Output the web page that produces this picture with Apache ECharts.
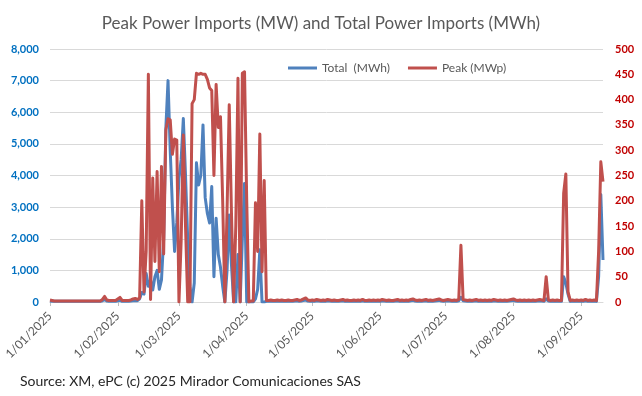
<!DOCTYPE html>
<html>
<head>
<meta charset="utf-8">
<script src="https://cdn.jsdelivr.net/npm/echarts@6/dist/echarts.min.js"></script>
<style>
  html, body { margin: 0; padding: 0; background: #fff; }
  #chart { width: 642px; height: 396px; }
</style>
</head>
<body>
<div id="chart"></div>
<script>
// daily series, 1 Jan 2025 .. 11 Sep 2025
const startDay = Date.UTC(2025, 0, 1)
const dayCount = 254

// Total (MWh), left axis
const totalMWh = [
  30,20,20,20,20,20,20,20,20,20, 20,20,20,20,20,20,20,20,20,20,
  20,20,20,20,40,80,30,20,20,20, 20,40,60,20,20,20,20,30,40,50,
  40,
  100,300,250,900,500,700,380,800,1000,400,
  700,2000,5500,7000,4800,3000,1600,2500,3900,4500,
  5800,4000,2000,500,0,600,4400,3700,4000,5600,
  3300,2800,2500,3650,800,2650,1500,1100,500,0,
  1000,2750,1200,0,0,1500,0,2000,3750,0,
  0,0,0,100,400,1650,0,0,20,
  20,30,20,20,30,20,30,20,20,30,
  20,20,30,40,20,30,50,60,30,20,
  30,20,40,30,20,30,20,40,30,20,
  30,20,20,30,40,20,30,20,20,30,
  20,30,20,40,20,20,30,20,30,20,
  30,20,40,30,20,30,20,20,30,40,
  20,30,20,30,20,40,50,30,20,30,
  20,30,40,20,30,20,30,40,50,30,
  20,30,40,30,20,30,20,40,150,40,
  30,20,30,20,30,40,20,30,20,30,
  20,30,20,40,30,20,30,20,30,20,
  30,40,50,30,20,30,20,30,20,30,
  20,30,20,30,40,30,20,100,30,20,
  30,20,30,20,20,800,600,250,20,30,
  20,30,20,30,20,40,20,30,20,30,
  20,800,3400,1330
]

// Peak (MWp), right axis
const peakMWp = [
  4,3,2,2,2,2,2,2,2,2, 2,2,2,2,2,2,2,2,2,2,
  2,2,2,2,5,11,4,3,3,3, 3,6,9,3,3,3,3,4,6,7,
  5,
  8,200,20,100,450,5,245,80,258,60,
  268,95,340,362,360,292,322,320,0,120,
  330,150,0,0,392,400,452,450,452,450,
  450,440,423,418,250,430,345,366,200,0,
  180,390,180,0,150,442,0,452,455,200,
  0,2,2,196,100,332,60,240,3,
  3,4,3,3,4,3,4,3,3,4,
  3,3,4,5,3,4,6,8,4,3,
  4,3,5,4,3,4,3,5,4,3,
  4,3,3,4,5,3,4,3,3,4,
  3,4,3,5,3,3,4,3,4,3,
  4,3,5,4,3,4,3,3,4,5,
  3,4,3,4,3,5,6,4,3,4,
  3,4,5,3,4,3,4,5,6,4,
  3,4,5,4,3,4,3,5,112,5,
  4,3,4,3,4,5,3,4,3,4,
  3,4,3,5,4,3,4,3,4,3,
  4,5,6,4,3,4,3,4,3,4,
  3,4,3,4,5,4,3,50,4,3,
  4,3,4,3,3,215,253,20,3,4,
  3,4,3,4,3,5,3,4,3,4,
  3,100,277,238
]

const seriesNames = ['Total  (MWh)', 'Peak (MWp)']

// d/mm/yyyy labels
const dates = []
for (let i = 0; i < dayCount; i++) {
  const d = new Date(startDay + i * 86400000)
  const mm = String(d.getUTCMonth() + 1).padStart(2, '0')
  dates.push(d.getUTCDate() + '/' + mm + '/' + d.getUTCFullYear())
}

const isMonthStart = (idx, val) => String(dates[idx]).startsWith('1/')

const myChart = echarts.init(document.getElementById('chart'))
const options = {
  animation: false,
  textStyle: { fontFamily: 'Lato' },
  title: {
    text: 'Peak Power Imports (MW) and Total Power Imports (MWh)',
    left: 'center',
    top: 10,
    textStyle: { color: '#595959', fontSize: 17, fontWeight: 'normal', fontFamily: 'Lato' }
  },
  legend: {
    left: 283,
    top: 57,
    itemWidth: 29,
    itemHeight: 3,
    itemGap: 18,
    icon: 'rect',
    textStyle: { color: '#595959', fontSize: 12, fontFamily: 'Lato' },
    data: seriesNames
  },
  grid: { left: 50, right: 39, top: 49, bottom: 94 },
  xAxis: {
    type: 'category',
    boundaryGap: false,
    data: dates,
    axisLine: { lineStyle: { color: '#D9D9D9' } },
    axisTick: { show: true, interval: isMonthStart, length: 4, lineStyle: { color: '#BFBFBF' } },
    axisLabel: {
      interval: isMonthStart,
      rotate: 45,
      margin: 12,
      fontSize: 12,
      color: '#595959'
    },
    splitLine: { show: false }
  },
  yAxis: [
    {
      type: 'value',
      min: 0,
      max: 8000,
      interval: 1000,
      axisLine: { show: false },
      axisTick: { show: false },
      axisLabel: {
        margin: 11,
        fontSize: 11,
        fontWeight: 'bold',
        color: '#0070C0',
        formatter: v => v.toLocaleString('en-US')
      },
      splitLine: { show: true, lineStyle: { color: '#D9D9D9', width: 1 } }
    },
    {
      type: 'value',
      min: 0,
      max: 500,
      interval: 50,
      axisLine: { show: false },
      axisTick: { show: false },
      axisLabel: { margin: 12, fontSize: 11, fontWeight: 'bold', color: '#C00000' },
      splitLine: { show: false }
    }
  ],
  series: [
    {
      name: seriesNames[0],
      type: 'line',
      yAxisIndex: 0,
      data: totalMWh,
      showSymbol: false,
      symbol: 'none',
      color: '#4F81BD',
      lineStyle: { color: '#4F81BD', width: 3, join: 'round' },
      z: 2
    },
    {
      name: seriesNames[1],
      type: 'line',
      yAxisIndex: 1,
      data: peakMWp,
      showSymbol: false,
      symbol: 'none',
      color: '#C0504D',
      lineStyle: { color: '#C0504D', width: 3, join: 'round' },
      z: 3
    }
  ],
  graphic: [
    {
      type: 'text',
      left: 20,
      top: 374,
      style: {
        text: 'Source: XM, ePC (c) 2025 Mirador Comunicaciones SAS',
        fill: '#262626',
        fontSize: 14,
        fontFamily: 'Lato'
      }
    }
  ]
}
myChart.setOption(options)
window.addEventListener('resize', () => { myChart.resize() })
</script>
</body>
</html>
